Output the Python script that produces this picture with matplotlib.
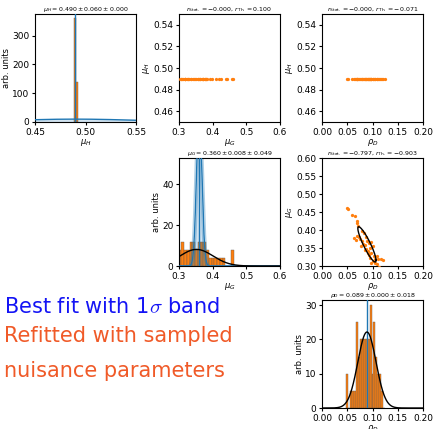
import numpy as np
import matplotlib
matplotlib.use("Agg")
import matplotlib.pyplot as plt

# ---------------- data ----------------
# best fit values: (mean, stat error, syst error)
par_names = [r"$\mu_H$", r"$\mu_G$", r"$\rho_D$"]
best_mean = [0.490, 0.360, 0.089]
err_stat = [0.060, 0.008, 0.000]
err_th = [0.000, 0.049, 0.018]
fit_mean = [0.490, 0.352, 0.089]   # centre of the refitted (black) gaussian

# histograms of refitted samples (bin start, bin width, heights)
muH_hist_start, muH_hist_width = 0.4888, 0.0020
muH_hist_heights = [360, 140]

muG_hist_start, muG_hist_width = 0.2985, 0.0082
muG_hist_heights = [8, 12, 8, 8, 12, 12, 8, 12, 12, 12, 8, 4, 4, 4, 4, 4, 4, 0, 0, 8]

rhoD_hist_start, rhoD_hist_width = 0.0480, 0.00385
rhoD_hist_heights = [10, 0, 5, 5, 5, 25, 15, 20, 20, 20, 20, 20, 30, 10, 25, 15, 10, 10, 5, 0]

# paired refitted samples (rho_D, mu_G, mu_H)
samp_rhoD = [0.049, 0.052, 0.060, 0.066, 0.069, 0.070, 0.072, 0.069, 0.074, 0.080,
             0.084, 0.087, 0.079, 0.090, 0.085, 0.093, 0.097, 0.088, 0.095, 0.100,
             0.092, 0.098, 0.102, 0.095, 0.105, 0.108, 0.111, 0.117, 0.121, 0.104,
             0.108, 0.098, 0.076, 0.082, 0.091, 0.101, 0.112, 0.115, 0.119, 0.124,
             0.063, 0.067, 0.078, 0.086, 0.094]
samp_muG = [0.461, 0.458, 0.443, 0.439, 0.426, 0.419, 0.410, 0.384, 0.381, 0.398,
            0.391, 0.381, 0.370, 0.370, 0.358, 0.363, 0.367, 0.347, 0.351, 0.356,
            0.335, 0.337, 0.328, 0.323, 0.319, 0.328, 0.319, 0.319, 0.317, 0.309,
            0.305, 0.307, 0.376, 0.362, 0.341, 0.313, 0.296, 0.291, 0.288, 0.285,
            0.378, 0.372, 0.355, 0.344, 0.331]
samp_muH = [0.4898] * len(samp_rhoD)

corr_titles = {
    (0, 1): r"$r_{\rm Stat.} = -0.000,\, r_{\rm Th.} = 0.100$",
    (0, 2): r"$r_{\rm Stat.} = -0.000,\, r_{\rm Th.} = -0.071$",
    (1, 2): r"$r_{\rm Stat.} = -0.797,\, r_{\rm Th.} = -0.903$",
}
r_th_GD = -0.903

xlims = [(0.45, 0.55), (0.3, 0.6), (0.0, 0.2)]
xticks = [[0.45, 0.50, 0.55], [0.3, 0.4, 0.5, 0.6], [0.00, 0.05, 0.10, 0.15, 0.20]]
diag_ylim = [375, 53, 31.5]
blue_scale = 1.5

# ---------------- figure ----------------
fig = plt.figure(figsize=(4.33, 4.29), dpi=100)
W, H = 433, 429
col_left = [35, 179, 322]
row_top = [14, 158, 300]
aw, ah = 101, 108

def make_ax(r, c):
    return fig.add_axes([col_left[c] / W, 1 - (row_top[r] + ah) / H, aw / W, ah / H])

def gauss(x, m, s):
    return np.exp(-0.5 * ((x - m) / s) ** 2) / (s * np.sqrt(2 * np.pi))

hists = [(muH_hist_start, muH_hist_width, muH_hist_heights),
         (muG_hist_start, muG_hist_width, muG_hist_heights),
         (rhoD_hist_start, rhoD_hist_width, rhoD_hist_heights)]
samples = [samp_muH, samp_muG, samp_rhoD]

tick_fs = 6.5
lab_fs = 6
title_fs = 4.5

for i in range(3):
    # diagonal
    ax = make_ax(i, i)
    st, wd, hh = hists[i]
    edges = st + wd * np.arange(len(hh) + 1)
    ax.bar(edges[:-1], hh, width=wd, align="edge", color="#ff7f0e",
           edgecolor=(0.35, 0.35, 0.35, 0.8), linewidth=0.35, zorder=1)
    x = np.linspace(xlims[i][0], xlims[i][1], 2000)
    m, s1, s2 = best_mean[i], err_stat[i], err_th[i]
    if s1 > 0:
        g = blue_scale * gauss(x, m, s1)
        ax.fill_between(x, 0, g, color="C0", alpha=0.2, linewidth=0, zorder=2)
        for d in (-0.0045, 0.0045) if s1 < 0.02 else ():
            ax.plot(x, blue_scale * gauss(x, m + d, s1), color="C0", alpha=0.35, lw=1, zorder=2)
        ax.plot(x, g, color="C0", lw=1, zorder=3)
    ax.axvline(m, color="C0", lw=1, zorder=3)
    if s2 > 0:
        ax.plot(x, gauss(x, fit_mean[i], s2), color="k", lw=1, zorder=4)
    ax.set_xlim(xlims[i])
    ax.set_ylim(0, diag_ylim[i])
    ax.set_xticks(xticks[i])
    ax.set_ylabel("arb. units", fontsize=lab_fs, labelpad=1)
    ax.set_xlabel(par_names[i], fontsize=lab_fs, labelpad=0.5)
    ax.tick_params(labelsize=tick_fs, length=2.5, pad=1.5)
    ax.set_title(rf"{par_names[i][:-1]} = {m:.3f} \pm {s1:.3f} \pm {s2:.3f}$",
                 fontsize=title_fs, pad=2)

    for j in range(i + 1, 3):
        ax = make_ax(i, j)
        ax.scatter(samples[j], samples[i], s=5.5, color="#ff7f0e", linewidths=0, zorder=3)
        if (i, j) == (1, 2):
            t = np.linspace(0, 2 * np.pi, 300)
            sx, sy = err_th[2], err_th[1]
            ex = fit_mean[2] + sx * np.cos(t)
            ey = best_mean[1] + sy * (r_th_GD * np.cos(t) + np.sqrt(1 - r_th_GD ** 2) * np.sin(t))
            ax.plot(ex, ey, color="k", lw=1, zorder=4)
        ax.set_xlim(xlims[j])
        ax.set_xticks(xticks[j])
        if i == 0:
            ax.set_ylim(0.45, 0.55)
            ax.set_yticks([0.46, 0.48, 0.50, 0.52, 0.54])
        else:
            ax.set_ylim(0.30, 0.60)
            ax.set_yticks(np.arange(0.30, 0.601, 0.05))
        ax.set_ylabel(par_names[i], fontsize=lab_fs, labelpad=1)
        ax.set_xlabel(par_names[j], fontsize=lab_fs, labelpad=0.5)
        ax.tick_params(labelsize=tick_fs, length=2.5, pad=1.5)
        ax.set_title(corr_titles[(i, j)], fontsize=title_fs, pad=2)

# legend texts
leg_fs = 15
fig.text(4 / W, 1 - 313 / H, r"Best fit with 1$\sigma$ band", color="#1414f5",
         fontsize=leg_fs, family="DejaVu Sans", math_fontfamily="cm", va="baseline")
fig.text(4 / W, 1 - 342 / H, "Refitted with sampled", color="#f05a28",
         fontsize=leg_fs, family="DejaVu Sans", va="baseline")
fig.text(4 / W, 1 - 377 / H, "nuisance parameters", color="#f05a28",
         fontsize=leg_fs, family="DejaVu Sans", va="baseline")

fig.savefig("out.png", dpi=100)
